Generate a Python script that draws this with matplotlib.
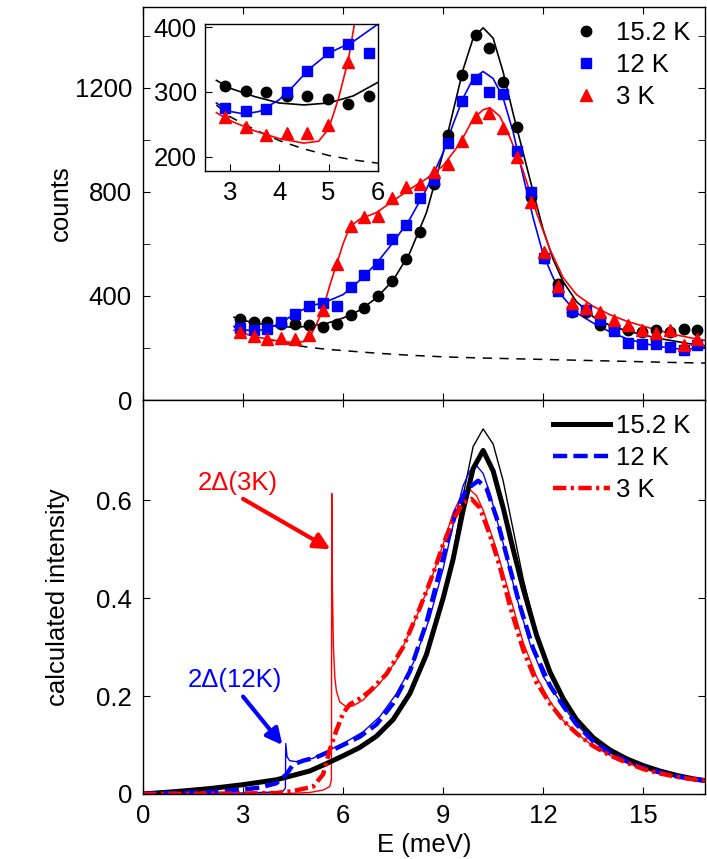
import matplotlib
matplotlib.use("Agg")
import matplotlib.pyplot as plt

plt.rcParams['font.family'] = ['Liberation Sans', 'DejaVu Sans']

# ---- measured counts (top panel) ----
e_pts = [2.90, 3.32, 3.73, 4.15, 4.56, 4.98, 5.39, 5.81, 6.23, 6.64, 7.06, 7.48,
         7.89, 8.31, 8.73, 9.14, 9.56, 9.98, 10.39, 10.81, 11.23, 11.64, 12.04,
         12.46, 12.87, 13.29, 13.71, 14.12, 14.54, 14.96, 15.37, 15.79, 16.21, 16.62]
counts_15K = [310, 301, 300, 294, 294, 289, 282, 294, 327, 354, 399, 457, 542, 647,
              831, 1018, 1249, 1404, 1352, 1222, 1048, 779, 545, 444, 337, 337, 290,
              278, 270, 262, 270, 262, 273, 270]
counts_12K = [275, 270, 274, 300, 332, 362, 374, 360, 435, 479, 524, 618, 671, 778,
              845, 989, 1149, 1233, 1182, 1175, 956, 801, 545, 418, 341, 344, 306,
              264, 221, 216, 215, 204, 193, 213]
counts_3K = [262, 246, 233, 237, 236, 249, 346, 522, 670, 702, 708, 775, 818, 830,
             877, 908, 994, 1089, 1104, 1046, 934, 760, 570, 438, 374, 354, 337, 309,
             290, 268, 258, 268, 213, 235]

# fits through the data
fit_e_15K = [2.73, 3.0, 3.5, 4.0, 4.5, 5.0, 5.5, 6.0, 6.5, 7.0, 7.5, 8.0, 8.5, 9.0,
             9.3, 9.6, 9.9, 10.2, 10.5, 10.8, 11.1, 11.4, 11.7, 12.0, 12.3, 12.6,
             13.0, 13.5, 14.0, 14.5, 15.0, 15.5, 16.0, 16.5, 16.9]
fit_15K = [318, 306, 293, 283, 280, 283, 294, 315, 345, 392, 460, 565, 720, 950,
           1110, 1270, 1390, 1430, 1390, 1260, 1100, 950, 800, 655, 540, 455, 378,
           320, 287, 266, 250, 236, 225, 214, 208]
fit_e_12K = [2.73, 3.0, 3.3, 3.6, 4.0, 4.3, 4.6, 5.0, 5.5, 6.0, 6.5, 7.0, 7.5, 8.0,
             8.5, 9.0, 9.3, 9.6, 9.9, 10.2, 10.5, 10.8, 11.1, 11.4, 11.7, 12.0, 12.3,
             12.6, 13.0, 13.5, 14.0, 14.5, 15.0, 15.5, 16.0, 16.5, 16.9]
fit_12K = [283, 270, 266, 270, 288, 310, 335, 360, 378, 405, 460, 525, 605, 695,
           810, 950, 1060, 1160, 1235, 1262, 1235, 1160, 1030, 860, 700, 560, 470,
           395, 335, 296, 262, 236, 218, 205, 197, 196, 203]
fit_e_3K = [2.73, 3.0, 3.5, 4.0, 4.5, 4.8, 5.0, 5.2, 5.4, 5.6, 5.8, 6.0, 6.2, 6.5,
            7.0, 7.5, 8.0, 8.5, 9.0, 9.5, 9.9, 10.2, 10.4, 10.7, 11.0, 11.4, 11.8,
            12.2, 12.6, 13.0, 13.5, 14.0, 14.5, 15.0, 15.5, 16.0, 16.5, 16.9]
fit_3K = [268, 256, 240, 228, 221, 224, 243, 290, 350, 440, 520, 600, 665, 695,
          720, 765, 810, 850, 900, 985, 1080, 1115, 1123, 1090, 1010, 880, 720,
          580, 470, 405, 360, 328, 303, 284, 266, 250, 237, 228]
base_e = [2.73, 3.0, 3.5, 4.0, 4.5, 5.0, 5.5, 6.0, 7.0, 8.0, 9.0, 10.0, 11.0, 12.0,
          13.0, 14.0, 15.0, 16.0, 16.9]
base_counts = [280, 262, 242, 225, 212, 202, 195, 190, 180, 172, 166, 162, 159, 156,
               153, 150, 147, 144, 142]

# ---- calculated intensity (bottom panel) ----
tail_e = [12.6, 13.0, 13.5, 14.0, 14.5, 15.0, 15.5, 16.0, 16.5, 16.9]
calc_e_15K_thick = [0, 1, 2, 3, 4, 5, 5.5, 6, 6.5, 7, 7.5, 8, 8.5, 9, 9.3, 9.6, 9.9,
                    10.2, 10.5, 10.8, 11.1, 11.4, 11.8, 12.2] + tail_e
calc_15K_thick = [0, 0.005, 0.011, 0.019, 0.029, 0.047, 0.062, 0.078, 0.095, 0.118,
                  0.152, 0.205, 0.285, 0.40, 0.48, 0.58, 0.665, 0.702, 0.66, 0.585,
                  0.50, 0.42, 0.325, 0.25,
                  0.195, 0.152, 0.115, 0.09, 0.072, 0.058, 0.047, 0.038, 0.031, 0.027]
calc_e_15K_thin = [0, 1, 2, 3, 4, 5, 6, 7, 7.5, 8, 8.5, 9, 9.3, 9.6, 9.9, 10.2, 10.5,
                   10.8, 11.1, 11.4, 11.8, 12.2] + tail_e
calc_15K_thin = [0, 0.005, 0.011, 0.019, 0.029, 0.047, 0.078, 0.118, 0.152, 0.205,
                 0.285, 0.40, 0.49, 0.61, 0.71, 0.746, 0.715, 0.64, 0.54, 0.44, 0.33,
                 0.25,
                 0.19, 0.148, 0.112, 0.088, 0.07, 0.056, 0.046, 0.037, 0.031, 0.027]
calc_e_12K_thick = [0, 1, 2, 3, 3.5, 4.0, 4.3, 4.5, 4.8, 5.2, 5.6, 6.0, 6.5, 7.0, 7.5,
                    8.0, 8.5, 8.8, 9.1, 9.4, 9.7, 10.05, 10.3, 10.6, 10.9, 11.3, 11.7,
                    12.2] + tail_e
calc_12K_thick = [0, 0.002, 0.004, 0.009, 0.013, 0.022, 0.04, 0.06, 0.068, 0.075,
                  0.087, 0.10, 0.117, 0.142, 0.185, 0.25, 0.35, 0.43, 0.51, 0.58,
                  0.622, 0.64, 0.625, 0.565, 0.488, 0.385, 0.297, 0.222,
                  0.18, 0.142, 0.108, 0.084, 0.067, 0.053, 0.044, 0.036, 0.03, 0.027]
calc_e_12K_thin = [0, 2, 3, 4, 4.2, 4.27, 4.28, 4.32, 4.4, 4.6, 5.1, 5.6, 6.1, 6.6,
                   7.1, 7.6, 8.1, 8.6, 9.0, 9.3, 9.6, 9.8, 10.0, 10.2, 10.4, 10.8,
                   11.2, 11.6, 12.0] + tail_e
calc_12K_thin = [0, 0.001, 0.002, 0.004, 0.006, 0.012, 0.103, 0.076, 0.068, 0.066,
                 0.073, 0.09, 0.107, 0.127, 0.158, 0.205, 0.267, 0.36, 0.46, 0.55,
                 0.63, 0.66, 0.671, 0.655, 0.615, 0.512, 0.403, 0.308, 0.24,
                 0.18, 0.142, 0.108, 0.084, 0.067, 0.053, 0.044, 0.036, 0.03, 0.027]
calc_e_3K_thick = [0, 3, 4, 4.5, 5.1, 5.4, 5.6, 5.8, 6.0, 6.2, 6.5, 6.8, 7.3, 7.8,
                   8.3, 8.7, 9.0, 9.3, 9.6, 9.85, 10.1, 10.4, 10.7, 11.0, 11.4, 11.8,
                   12.2] + tail_e
calc_3K_thick = [0, 0.001, 0.002, 0.006, 0.015, 0.04, 0.09, 0.13, 0.165, 0.183,
                 0.195, 0.21, 0.245, 0.30, 0.38, 0.45, 0.51, 0.56, 0.595, 0.603,
                 0.585, 0.53, 0.465, 0.385, 0.295, 0.228, 0.185,
                 0.15, 0.124, 0.098, 0.079, 0.064, 0.051, 0.042, 0.035, 0.03, 0.027]
calc_e_3K_thin = [0, 4, 5, 5.4, 5.6, 5.65, 5.66, 5.68, 5.71, 5.75, 5.8, 5.9, 6.1, 6.3,
                  6.6, 7.1, 7.6, 8.1, 8.6, 9.0, 9.3, 9.55, 9.76, 10.0, 10.2, 10.6,
                  11.0, 11.4, 11.8, 12.2] + tail_e
calc_3K_thin = [0, 0.0, 0.003, 0.008, 0.015, 0.03, 0.614, 0.42, 0.30, 0.24, 0.21,
                0.188, 0.178, 0.18, 0.192, 0.226, 0.273, 0.345, 0.43, 0.51, 0.575,
                0.61, 0.624, 0.61, 0.58, 0.50, 0.405, 0.31, 0.24, 0.19,
                0.15, 0.124, 0.098, 0.079, 0.064, 0.051, 0.042, 0.035, 0.03, 0.027]

labels = ['15.2 K', '12 K', '3 K']

fig = plt.figure(figsize=(7.07, 8.59), dpi=100)
ax1 = fig.add_axes([0.2023, 0.5343, 0.7947, 0.4576])
ax2 = fig.add_axes([0.2023, 0.0757, 0.7947, 0.4586])
axin = fig.add_axes([0.290, 0.801, 0.2447, 0.171])

fs = 18.5
narrow = ['Liberation Sans Narrow', 'Liberation Sans', 'DejaVu Sans']


def draw_counts(ax):
    ax.plot(base_e, base_counts, color='black', lw=1.1, ls=(0, (6, 5)))
    ax.plot(fit_e_15K, fit_15K, color='black', lw=1.2)
    ax.plot(fit_e_12K, fit_12K, color='blue', lw=1.2)
    ax.plot(fit_e_3K, fit_3K, color='red', lw=1.2)
    h1, = ax.plot(e_pts, counts_15K, 'o', color='black', ms=7.5, ls='none')
    h2, = ax.plot(e_pts, counts_12K, 's', color='blue', ms=6.5, ls='none')
    h3, = ax.plot(e_pts, counts_3K, '^', color='red', ms=8, ls='none')
    return [h1, h2, h3]


handles = draw_counts(ax1)
ax1.set_xlim(0, 16.85)
ax1.set_ylim(0, 1510)
ax1.set_xticks([0, 3, 6, 9, 12, 15])
ax1.set_xticklabels([])
ax1.set_yticks([0, 400, 800, 1200])
ax1.set_yticks([200, 600, 1000, 1400], minor=True)
ax1.set_ylabel('counts', fontsize=fs, family=narrow)
ax1.legend(handles, labels, loc='upper right', bbox_to_anchor=(1.0, 1.0),
           frameon=False, fontsize=fs, handletextpad=0.5, labelspacing=0.3,
           borderaxespad=0.25, handlelength=1.4, borderpad=0.3)

draw_counts(axin)
axin.set_xlim(2.5, 6.0)
axin.set_ylim(178, 405)
axin.set_xticks([3, 4, 5, 6])
axin.set_yticks([200, 300, 400])

# bottom panel
ax2.plot(calc_e_15K_thin, calc_15K_thin, color='black', lw=1.0)
ax2.plot(calc_e_12K_thin, calc_12K_thin, color='blue', lw=1.0)
ax2.plot(calc_e_3K_thin, calc_3K_thin, color='red', lw=1.0)
l1, = ax2.plot(calc_e_15K_thick, calc_15K_thick, color='black', lw=3.6)
l2, = ax2.plot(calc_e_12K_thick, calc_12K_thick, color='blue', lw=3.2, ls=(0, (3.2, 1.4)))
l3, = ax2.plot(calc_e_3K_thick, calc_3K_thick, color='red', lw=3.2,
               ls=(0, (3, 1.0, 0.7, 1.0)))
ax2.legend([l1, l2, l3], labels, loc='upper right', bbox_to_anchor=(1.0, 1.0),
           frameon=False, fontsize=fs, handlelength=2.2, handletextpad=0.25,
           labelspacing=0.3, borderaxespad=0.25, borderpad=0.3)

ax2.set_xlim(0, 16.85)
ax2.set_ylim(0, 0.805)
ax2.set_xticks([0, 3, 6, 9, 12, 15])
ax2.set_yticks([0, 0.2, 0.4, 0.6])
ax2.set_yticklabels(['0', '0.2', '0.4', '0.6'])
ax2.set_xlabel('E (meV)', fontsize=fs, labelpad=4)
ax2.set_ylabel('calculated intensity', fontsize=fs, family=narrow)

ax2.text(2.84, 0.635, '2Δ(3K)', color='red', fontsize=fs, ha='center', va='center')
ax2.annotate('', xy=(5.62, 0.50), xytext=(3.0, 0.603),
             arrowprops=dict(arrowstyle='-|>', color='red', lw=3,
                             mutation_scale=24, shrinkA=0, shrinkB=0))
ax2.text(2.76, 0.233, '2Δ(12K)', color='blue', fontsize=fs, ha='center', va='center')
ax2.annotate('', xy=(4.18, 0.10), xytext=(3.0, 0.199),
             arrowprops=dict(arrowstyle='-|>', color='blue', lw=3,
                             mutation_scale=24, shrinkA=0, shrinkB=0))

for ax in (ax1, ax2, axin):
    ax.tick_params(which='both', direction='in', top=True, right=True,
                   labelsize=fs, length=5)
    ax.tick_params(axis='y', pad=8)
    ax.tick_params(axis='x', pad=7)
    for s in ax.spines.values():
        s.set_linewidth(1.0)
axin.tick_params(which='both', right=False, top=False)
axin.tick_params(axis='y', pad=6)
ax1.yaxis.set_label_coords(-0.125, 0.5)
ax2.yaxis.set_label_coords(-0.13, 0.5)

fig.savefig('out.png', dpi=100)
